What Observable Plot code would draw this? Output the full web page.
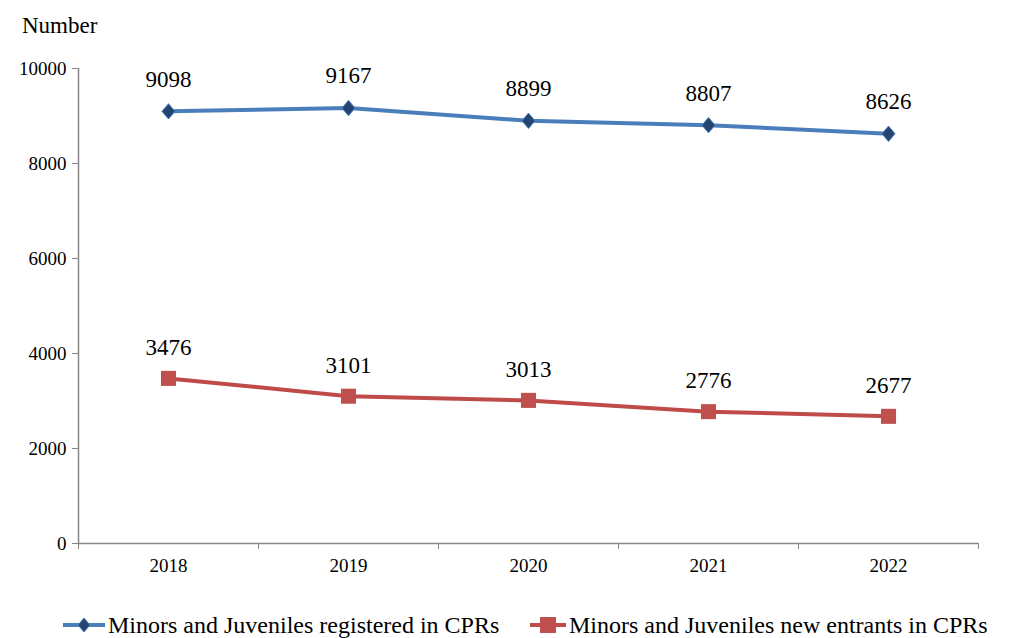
<!DOCTYPE html>
<html><head><meta charset="utf-8">
<script src="https://cdn.jsdelivr.net/npm/d3@7"></script>
<script src="https://cdn.jsdelivr.net/npm/@observablehq/plot@0.6"></script>
<style>
body{margin:0;background:#fff;}
#wrap{position:relative;width:1029px;height:638px;overflow:hidden;font-family:"Liberation Serif",serif;color:#000;}
#ytitle{position:absolute;left:22px;top:12px;font-size:23px;line-height:28px;font-family:"Liberation Serif",serif;}
.leg{position:absolute;top:612px;font-size:24px;line-height:26px;white-space:nowrap;display:flex;align-items:center;font-family:"Liberation Serif",serif;}
.leg span{font-family:"Liberation Serif",serif;}
.leg svg{display:block;}
#chart svg text{font-family:"Liberation Serif",serif;}
</style></head><body>
<div id="wrap"><div id="ytitle">Number</div><div id="chart"></div></div>
<script>
const years = [2018, 2019, 2020, 2021, 2022];
const registered = [9098, 9167, 8899, 8807, 8626];
const newEntrants = [3476, 3101, 3013, 2776, 2677];
const yTicks = [0, 2000, 4000, 6000, 8000, 10000];
const seriesNames = ["Minors and Juveniles registered in CPRs", "Minors and Juveniles new entrants in CPRs"];

const regData = years.map((y, i) => ({year: y, value: registered[i]}));
const newData = years.map((y, i) => ({year: y, value: newEntrants[i]}));
const bandEdges = [years[0] - 0.5, ...years.map(y => y + 0.5)];

const diamond = {draw(ctx, size) { const h = Math.sqrt(size) * 0.62, w = h * 0.85;
  ctx.moveTo(0, -h); ctx.lineTo(w, 0); ctx.lineTo(0, h); ctx.lineTo(-w, 0); ctx.closePath(); }};

const blue = "#4A7EBB", navy = "#24456F", red = "#BE4B48", redFill = "#C0504D", gray = "#868686";
const serif = "Liberation Serif";

const chart = Plot.plot({
  width: 1029, height: 638,
  marginLeft: 78, marginRight: 51, marginTop: 68, marginBottom: 95,
  style: {fontFamily: serif, fontSize: "19px", color: "#000", background: "transparent"},
  x: {type: "linear", domain: [years[0] - 0.5, years[years.length - 1] + 0.5]},
  y: {domain: [0, 10000]},
  marks: [
    Plot.axisY({ticks: yTicks, tickSize: 6, tickPadding: 6, tickFormat: d => String(d), stroke: gray, fill: "#000", fontSize: 19, fontFamily: serif, label: null}),
    Plot.axisX({ticks: bandEdges, tickSize: 6, tickFormat: () => "", stroke: gray, label: null}),
    Plot.axisX({ticks: years, tickSize: 0, tickPadding: 15, tickFormat: d => String(d), fill: "#000", fontSize: 19, fontFamily: serif, label: null}),
    Plot.ruleY([0], {stroke: gray, strokeWidth: 1.5}),
    Plot.ruleX([bandEdges[0]], {stroke: gray, strokeWidth: 1.5}),
    Plot.line(regData, {x: "year", y: "value", stroke: blue, strokeWidth: 4}),
    Plot.dot(regData, {x: "year", y: "value", symbol: diamond, r: 7, fill: navy, stroke: blue, strokeWidth: 1}),
    Plot.text(regData, {x: "year", y: "value", text: d => String(d.value), dy: -32, fontSize: 23, fontFamily: serif, fill: "#000"}),
    Plot.line(newData, {x: "year", y: "value", stroke: red, strokeWidth: 4}),
    Plot.dot(newData, {x: "year", y: "value", symbol: "square", r: 8.5, fill: redFill, stroke: "none"}),
    Plot.text(newData, {x: "year", y: "value", text: d => String(d.value), dy: -31, fontSize: 23, fontFamily: serif, fill: "#000"})
  ]
});
document.getElementById("chart").appendChild(chart);

const wrap = document.getElementById("wrap");
function legendItem(left, swW, name, markerSvg, color) {
  const div = document.createElement("div");
  div.className = "leg";
  div.style.left = left + "px";
  div.innerHTML = `<svg width="${swW}" height="26"><line x1="0" x2="${swW}" y1="13" y2="13" stroke="${color}" stroke-width="4"/>${markerSvg(swW / 2)}</svg><span style="margin-left:3px">${name}</span>`;
  wrap.appendChild(div);
}
legendItem(63, 42, seriesNames[0], cx => `<path d="M${cx},6 L${cx + 6},13 L${cx},20 L${cx - 6},13 Z" fill="${navy}" stroke="${blue}" stroke-width="1"/>`, blue);
legendItem(530, 36, seriesNames[1], cx => `<rect x="${cx - 8}" y="5" width="16" height="16" fill="${redFill}"/>`, red);
</script>
</body></html>
